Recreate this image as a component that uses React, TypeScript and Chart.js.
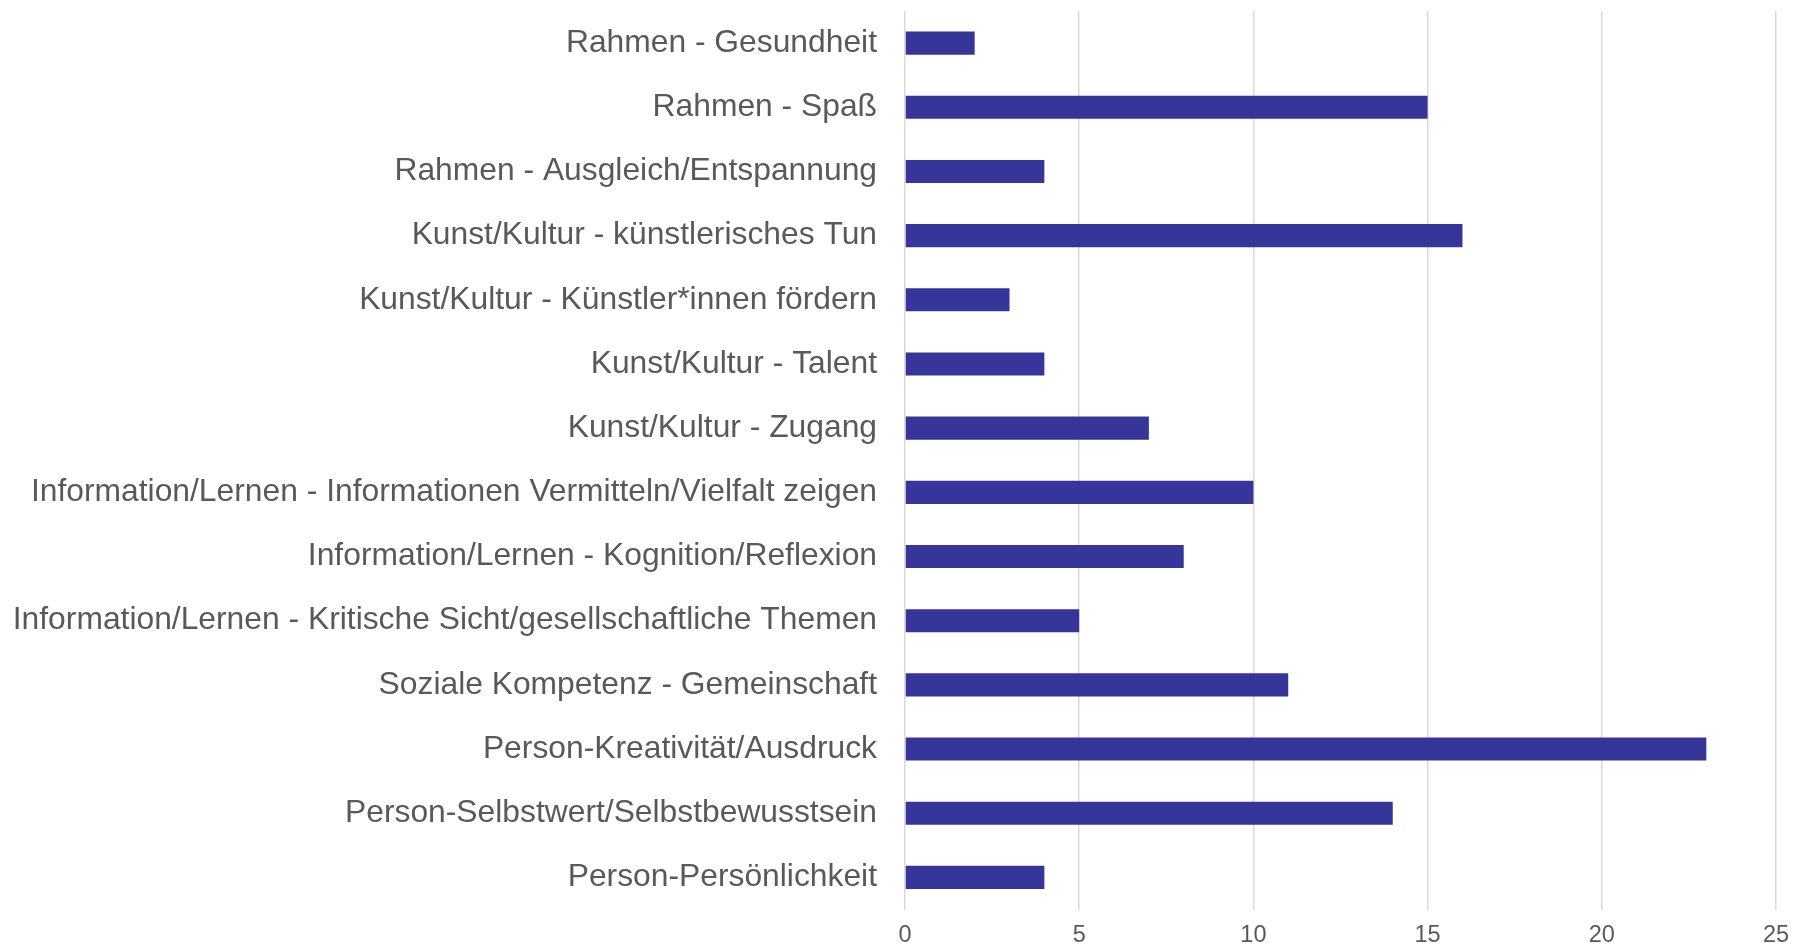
import React, { useEffect, useRef } from "react";
import { Chart, registerables } from "chart.js";

Chart.register(...registerables);

const categories: string[] = [
  "Rahmen - Gesundheit",
  "Rahmen - Spaß",
  "Rahmen - Ausgleich/Entspannung",
  "Kunst/Kultur - künstlerisches Tun",
  "Kunst/Kultur - Künstler*innen fördern",
  "Kunst/Kultur - Talent",
  "Kunst/Kultur - Zugang",
  "Information/Lernen - Informationen Vermitteln/Vielfalt zeigen",
  "Information/Lernen - Kognition/Reflexion",
  "Information/Lernen - Kritische Sicht/gesellschaftliche Themen",
  "Soziale Kompetenz - Gemeinschaft",
  "Person-Kreativität/Ausdruck",
  "Person-Selbstwert/Selbstbewusstsein",
  "Person-Persönlichkeit",
];

const values: number[] = [2, 15, 4, 16, 3, 4, 7, 10, 8, 5, 11, 23, 14, 4];

const xTickMin = 0;
const xTickMax = 25;
const xTickStep = 5;

export default function App() {
  const ref = useRef<HTMLCanvasElement | null>(null);

  useEffect(() => {
    document.body.style.margin = "0";
    if (!ref.current) return;
    const chart = new Chart(ref.current, {
      type: "bar",
      data: {
        labels: categories,
        datasets: [
          {
            data: values,
            backgroundColor: "#35359a",
            borderWidth: 0,
            barPercentage: 0.36,
            categoryPercentage: 1,
          },
        ],
      },
      options: {
        indexAxis: "y",
        animation: false,
        responsive: false,
        maintainAspectRatio: false,
        layout: { padding: { top: 11, right: 18, left: 0, bottom: 0 } },
        plugins: {
          legend: { display: false },
          tooltip: { enabled: false },
        },
        scales: {
          x: {
            min: xTickMin,
            max: xTickMax,
            ticks: {
              stepSize: xTickStep,
              color: "#595959",
              font: { family: "'Liberation Sans', Arial, sans-serif", size: 23.5 },
              padding: 12,
            },
            grid: {
              color: "#d9d9d9",
              lineWidth: 1.5,
              drawTicks: false,
            },
            border: { display: false },
            afterFit: (scale: any) => {
              scale.height = 38.5;
              scale.paddingLeft = 0;
              scale.paddingRight = 0;
              scale.paddingTop = 0;
              scale.paddingBottom = 0;
            },
          },
          y: {
            ticks: {
              color: "#595959",
              font: { family: "'Liberation Sans', Arial, sans-serif", size: 31.8 },
              padding: 28,
              autoSkip: false,
            },
            grid: { display: false, drawTicks: false },
            border: { display: false },
            afterFit: (scale: any) => {
              scale.width = 905;
              scale.paddingLeft = 0;
              scale.paddingRight = 0;
              scale.paddingTop = 0;
              scale.paddingBottom = 0;
            },
          },
        },
      },
    });
    return () => chart.destroy();
  }, []);

  return (
    <div style={{ width: 1794, height: 948, background: "#ffffff" }}>
      <canvas ref={ref} width={1794} height={948} style={{ display: "block" }} />
    </div>
  );
}
